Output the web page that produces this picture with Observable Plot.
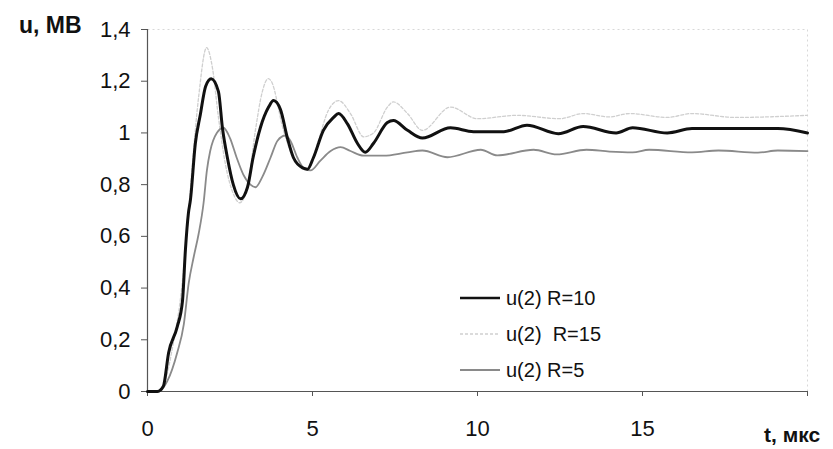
<!DOCTYPE html>
<html>
<head>
<meta charset="utf-8">
<script src="https://cdn.jsdelivr.net/npm/d3@7"></script>
<script src="https://cdn.jsdelivr.net/npm/@observablehq/plot@0.6"></script>
<style>
  html, body { margin: 0; padding: 0; background: #fff; }
  #wrap { position: relative; width: 833px; height: 449px; font-family: "Liberation Sans", Arial, sans-serif; color: #111; }
  .lab { position: absolute; font-weight: bold; white-space: pre; line-height: 1; }
  #legend { position: absolute; left: 460px; top: 280px; font-size: 20px; }
  #legend .row { display: flex; align-items: center; height: 36px; white-space: pre; }
  #legend svg { margin-right: 6px; }
</style>
</head>
<body>
<div id="wrap"></div>
<script>
// R = 10 (black)
const t10 = [0, 0.3, 0.48, 0.64, 0.9, 1.06, 1.15, 1.24, 1.3, 1.45, 1.6, 1.76, 1.93, 2.15, 2.27, 2.42, 2.6, 2.82, 3.03, 3.2, 3.42, 3.67, 3.82, 4.03, 4.24, 4.42, 4.7, 4.85, 5.03, 5.33, 5.64, 5.79, 6.06, 6.36, 6.6, 6.85, 7.27, 7.45, 7.88, 8.33, 9.18, 9.88, 10.8, 11.5, 12.45, 13.2, 14.2, 14.7, 15.75, 16.5, 19.1, 20];
const u10 = [0, 0, 0.02, 0.15, 0.25, 0.35, 0.55, 0.69, 0.74, 0.96, 1.07, 1.18, 1.21, 1.16, 1.02, 0.905, 0.8, 0.745, 0.79, 0.905, 1.02, 1.1, 1.125, 1.09, 0.98, 0.905, 0.865, 0.86, 0.905, 1.01, 1.06, 1.075, 1.035, 0.96, 0.925, 0.96, 1.04, 1.048, 1.01, 0.98, 1.02, 1.005, 1.005, 1.03, 0.997, 1.025, 1.0, 1.02, 1.0, 1.017, 1.017, 1.0];
// R = 15 (light dotted)
const t15 = [0, 0.3, 0.5, 0.8, 1.0, 1.2, 1.36, 1.55, 1.79, 1.97, 2.15, 2.36, 2.6, 2.79, 3.03, 3.27, 3.48, 3.66, 3.75, 4.12, 4.42, 4.85, 5.15, 5.48, 5.79, 6.15, 6.55, 6.85, 7.27, 7.45, 7.88, 8.33, 9.18, 10.0, 11.2, 12.5, 13.2, 14.0, 14.6, 15.75, 16.5, 17.8, 20];
const u15 = [0, 0, 0.03, 0.2, 0.36, 0.62, 0.88, 1.14, 1.33, 1.25, 1.06, 0.88, 0.765, 0.73, 0.79, 1.01, 1.16, 1.21, 1.2, 1.01, 0.905, 0.855, 0.96, 1.087, 1.125, 1.075, 0.985, 1.0, 1.1, 1.12, 1.075, 1.01, 1.1, 1.055, 1.068, 1.055, 1.075, 1.062, 1.075, 1.06, 1.075, 1.06, 1.068];
// R = 5 (gray)
const t5 = [0, 0.33, 0.6, 0.9, 1.1, 1.25, 1.4, 1.55, 1.7, 1.8, 1.9, 2.1, 2.3, 2.5, 2.7, 2.9, 3.12, 3.27, 3.48, 3.73, 3.94, 4.18, 4.33, 4.54, 4.73, 4.94, 5.24, 5.55, 5.85, 6.15, 6.55, 7.15, 7.88, 8.33, 9.09, 10.1, 10.6, 11.7, 12.4, 13.3, 14.0, 14.7, 15.2, 16.5, 17.3, 18.5, 19.1, 20];
const u5 = [0, 0, 0.04, 0.15, 0.26, 0.42, 0.52, 0.61, 0.73, 0.855, 0.93, 1.0, 1.02, 0.98, 0.905, 0.84, 0.8, 0.79, 0.83, 0.905, 0.97, 0.99, 0.97, 0.905, 0.865, 0.855, 0.893, 0.93, 0.945, 0.93, 0.912, 0.912, 0.925, 0.932, 0.906, 0.935, 0.913, 0.935, 0.917, 0.935, 0.928, 0.925, 0.935, 0.925, 0.932, 0.924, 0.932, 0.93];

const seriesNames = ["u(2) R=10", "u(2)  R=15", "u(2) R=5"];
const xTicks = [0, 5, 10, 15, 20];
const yTicks = [0, 0.2, 0.4, 0.6, 0.8, 1.0, 1.2, 1.4];

const styles = [
  {stroke: "#111", strokeWidth: 3, dash: null},
  {stroke: "#cfcfcf", strokeWidth: 1.3, dash: "3,2"},
  {stroke: "#8a8a8a", strokeWidth: 1.8, dash: null}
];

const toRows = (ts, us) => ts.map((t, i) => ({t, u: us[i]}));
const sets = [toRows(t10, u10), toRows(t15, u15), toRows(t5, u5)];

const fmt = d => String(d).replace(".", ",");

const chart = Plot.plot({
  width: 833,
  height: 449,
  marginLeft: 147,
  marginRight: 26,
  marginTop: 29,
  marginBottom: 58,
  style: {fontFamily: "Liberation Sans, Arial, sans-serif", fontSize: "21px", color: "#111", background: "#fff"},
  x: {domain: [0, 20]},
  y: {domain: [0, 1.4]},
  marks: [
    Plot.frame({stroke: "#d8d8d8", strokeDasharray: "2,3"}),
    Plot.axisX({ticks: xTicks, tickSize: 5, tickPadding: 24, tickFormat: d => d === 20 ? "" : fmt(d), stroke: "#555", fontSize: 22, label: null}),
    Plot.axisY({ticks: yTicks, tickSize: 6, tickPadding: 11, tickFormat: fmt, stroke: "#555", fontSize: 22, label: null}),
    Plot.ruleY([0], {stroke: "#555", strokeWidth: 1.2}),
    Plot.ruleX([0], {stroke: "#555", strokeWidth: 1.2}),
    Plot.line(sets[1], {x: "t", y: "u", stroke: styles[1].stroke, strokeWidth: styles[1].strokeWidth, strokeDasharray: styles[1].dash, curve: "monotone-x"}),
    Plot.line(sets[2], {x: "t", y: "u", stroke: styles[2].stroke, strokeWidth: styles[2].strokeWidth, curve: "monotone-x"}),
    Plot.line(sets[0], {x: "t", y: "u", stroke: styles[0].stroke, strokeWidth: styles[0].strokeWidth, curve: "monotone-x"})
  ]
});

const wrap = document.getElementById("wrap");
wrap.appendChild(chart);
chart.style.position = "absolute";
chart.style.left = "0";
chart.style.top = "0";

const yl = document.createElement("div");
yl.className = "lab";
yl.style.left = "19px"; yl.style.top = "14px"; yl.style.fontSize = "23px";
yl.textContent = "u, МВ";
wrap.appendChild(yl);

const xl = document.createElement("div");
xl.className = "lab";
xl.style.left = "764px"; xl.style.top = "424px"; xl.style.fontSize = "21px";
xl.textContent = "t, мкс";
wrap.appendChild(xl);

const lg = document.createElement("div");
lg.id = "legend";
seriesNames.forEach((name, i) => {
  const row = document.createElement("div");
  row.className = "row";
  const s = styles[i];
  row.innerHTML = `<svg width="40" height="10"><line x1="0" x2="40" y1="5" y2="5" stroke="${s.stroke}" stroke-width="${Math.min(s.strokeWidth, 2.4)}" ${s.dash ? `stroke-dasharray="${s.dash}"` : ""}/></svg>`;
  const sp = document.createElement("span");
  sp.textContent = name;
  row.appendChild(sp);
  lg.appendChild(row);
});
wrap.appendChild(lg);
</script>
</body>
</html>
